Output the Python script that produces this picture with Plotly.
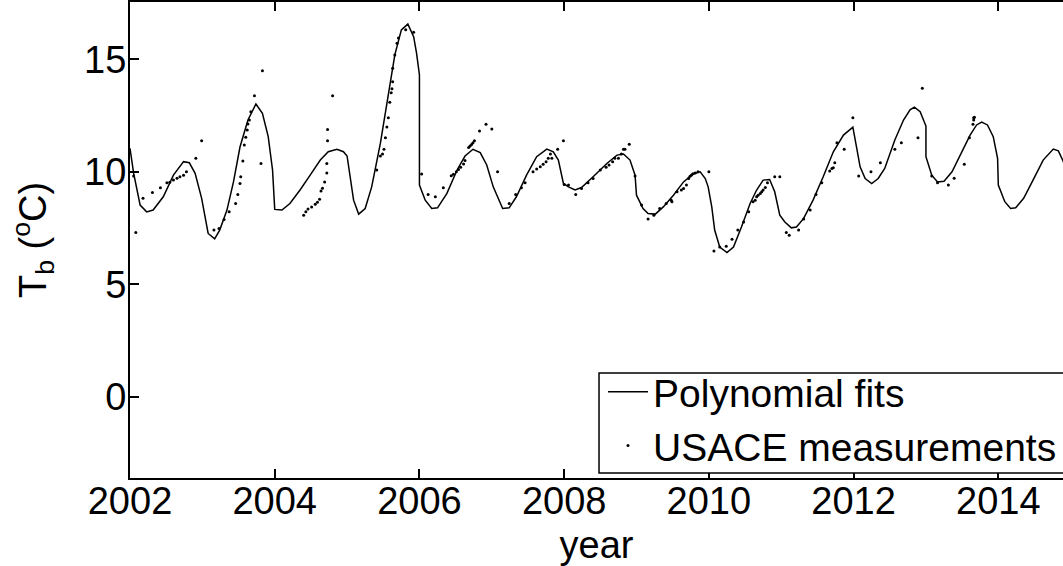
import plotly.graph_objects as go

# Polynomial fit curve (year, temperature °C)
fit_year = [2002.00, 2002.05, 2002.14, 2002.23, 2002.32, 2002.46, 2002.60, 2002.74, 2002.82, 2002.90,
            2002.99, 2003.08, 2003.17, 2003.24, 2003.34, 2003.43, 2003.52, 2003.63, 2003.74, 2003.83,
            2003.91, 2003.97, 2004.00, 2004.10, 2004.21, 2004.35, 2004.49, 2004.63, 2004.74, 2004.86,
            2004.95, 2005.00, 2005.09, 2005.16, 2005.25, 2005.34, 2005.46, 2005.57, 2005.66, 2005.75,
            2005.84, 2005.92, 2005.96, 2006.00, 2006.00, 2006.08, 2006.17, 2006.25, 2006.38, 2006.52,
            2006.63, 2006.74, 2006.84, 2006.93, 2007.02, 2007.15, 2007.24, 2007.34, 2007.48, 2007.62,
            2007.76, 2007.85, 2007.92, 2007.99, 2008.06, 2008.15, 2008.24, 2008.40, 2008.59, 2008.73,
            2008.82, 2008.91, 2008.98, 2009.00, 2009.09, 2009.16, 2009.26, 2009.37, 2009.51, 2009.65,
            2009.78, 2009.88, 2009.95, 2009.99, 2010.04, 2010.08, 2010.15, 2010.25, 2010.34, 2010.45,
            2010.57, 2010.66, 2010.75, 2010.84, 2010.91, 2010.98, 2011.05, 2011.14, 2011.21, 2011.31,
            2011.44, 2011.58, 2011.72, 2011.86, 2011.99, 2012.04, 2012.09, 2012.16, 2012.25, 2012.34,
            2012.43, 2012.57, 2012.69, 2012.78, 2012.84, 2012.92, 2013.00, 2013.00, 2013.08, 2013.16,
            2013.25, 2013.36, 2013.49, 2013.61, 2013.70, 2013.77, 2013.85, 2013.93, 2013.99, 2014.00,
            2014.09, 2014.17, 2014.24, 2014.35, 2014.48, 2014.62, 2014.76, 2014.83, 2014.89, 2014.95]
fit_temp = [11.04, 9.94, 8.52, 8.22, 8.30, 8.89, 9.85, 10.45, 10.40, 9.93,
            8.82, 7.26, 7.02, 7.41, 8.30, 9.55, 11.10, 12.30, 13.01, 12.60,
            11.56, 10.08, 8.33, 8.30, 8.59, 9.19, 9.85, 10.52, 10.89, 11.00,
            10.89, 10.70, 8.74, 8.12, 8.37, 9.33, 11.26, 13.34, 15.19, 16.30,
            16.56, 16.00, 15.27, 14.30, 9.41, 8.74, 8.37, 8.40, 9.04, 10.08,
            10.70, 11.00, 10.85, 10.30, 9.33, 8.37, 8.40, 8.89, 9.85, 10.67,
            11.01, 10.89, 10.52, 9.48, 9.33, 9.19, 9.30, 9.78, 10.37, 10.74,
            10.79, 10.52, 9.85, 8.96, 8.37, 8.15, 8.12, 8.44, 8.96, 9.55,
            9.90, 10.00, 9.70, 9.33, 8.44, 7.41, 6.66, 6.41, 6.66, 7.55,
            8.59, 9.19, 9.63, 9.66, 9.11, 8.07, 7.77, 7.51, 7.55, 7.93,
            8.74, 9.78, 10.89, 11.63, 11.98, 11.11, 10.22, 9.70, 9.48, 9.70,
            10.15, 11.41, 12.30, 12.75, 12.87, 12.67, 12.03, 10.67, 9.85, 9.55,
            9.58, 10.00, 10.82, 11.63, 12.08, 12.21, 12.08, 11.56, 10.60, 9.41,
            8.67, 8.37, 8.40, 8.82, 9.63, 10.52, 11.01, 10.93, 10.52, 10.00]

# USACE measurements (year, temperature °C)
obs_year = [2002.05, 2002.08, 2002.18, 2002.31, 2002.42, 2002.51, 2002.55, 2002.60, 2002.65, 2002.69,
            2002.74, 2002.78, 2002.91, 2002.99, 2003.16, 2003.23, 2003.30, 2003.37, 2003.46, 2003.49,
            2003.52, 2003.53, 2003.56, 2003.58, 2003.60, 2003.62, 2003.63, 2003.65, 2003.67, 2003.72,
            2003.81, 2003.83, 2004.40, 2004.43, 2004.46, 2004.51, 2004.56, 2004.59, 2004.62, 2004.64,
            2004.66, 2004.69, 2004.72, 2004.72, 2004.73, 2004.73, 2004.80,
            2005.41, 2005.46, 2005.49, 2005.51, 2005.53, 2005.55, 2005.57, 2005.59, 2005.61, 2005.62,
            2005.63, 2005.63, 2005.66, 2005.69, 2005.71, 2005.81, 2005.92,
            2006.03, 2006.12, 2006.22, 2006.33, 2006.44, 2006.47, 2006.51, 2006.54, 2006.57, 2006.61,
            2006.63, 2006.68, 2006.70, 2006.72, 2006.74, 2006.76, 2006.83, 2006.92, 2007.00,
            2007.08, 2007.24, 2007.33, 2007.41, 2007.46, 2007.57, 2007.62, 2007.67, 2007.71, 2007.75,
            2007.78, 2007.83, 2007.81, 2007.91, 2007.99,
            2008.00, 2008.06, 2008.16, 2008.24, 2008.33, 2008.40, 2008.50, 2008.58, 2008.62, 2008.67,
            2008.70, 2008.75, 2008.79, 2008.82, 2008.84, 2008.90, 2008.98,
            2009.07, 2009.16, 2009.24, 2009.32, 2009.41, 2009.48, 2009.49, 2009.56, 2009.62, 2009.65,
            2009.69, 2009.72, 2009.74, 2009.76, 2009.78, 2009.81, 2009.85,
            2010.00, 2010.07, 2010.15, 2010.24, 2010.32, 2010.40, 2010.48, 2010.55, 2010.61, 2010.64,
            2010.66, 2010.68, 2010.71, 2010.73, 2010.75, 2010.78, 2010.81, 2010.91, 2010.98,
            2011.07, 2011.11, 2011.24, 2011.31, 2011.40, 2011.48, 2011.56, 2011.67, 2011.70, 2011.72,
            2011.74, 2011.77, 2011.87, 2011.99,
            2012.07, 2012.24, 2012.37, 2012.57, 2012.66, 2012.89, 2012.95,
            2013.08, 2013.16, 2013.31, 2013.39, 2013.53, 2013.60, 2013.65, 2013.66, 2013.67, 2013.66]
obs_temp = [9.81, 7.30, 8.82, 9.08, 9.29, 9.51, 9.53, 9.63, 9.71, 9.78,
            9.85, 10.00, 10.60, 11.38, 7.41, 7.48, 7.88, 8.22, 8.59, 8.99,
            9.48, 9.78, 10.48, 11.19, 11.53, 11.86, 12.12, 12.30, 12.67, 13.38,
            10.37, 14.49, 8.07, 8.22, 8.35, 8.44, 8.56, 8.65, 8.78, 9.15,
            9.27, 9.55, 9.95, 10.37, 11.38, 11.88, 13.38,
            10.08, 10.70, 10.79, 11.00, 11.51, 11.99, 12.40, 13.09, 13.51, 13.69,
            14.00, 14.60, 15.19, 15.71, 15.94, 16.31, 16.20,
            9.90, 8.99, 8.89, 9.29, 9.82, 9.89, 10.00, 10.10, 10.20, 10.35,
            10.50, 11.08, 11.15, 11.21, 11.29, 11.38, 11.81, 12.11, 11.90,
            10.00, 8.59, 8.99, 9.29, 9.51, 10.00, 10.12, 10.22, 10.33, 10.45,
            10.60, 10.60, 10.79, 11.00, 11.38,
            9.44, 9.41, 8.99, 9.26, 9.51, 9.70, 10.08, 10.20, 10.30, 10.45,
            10.60, 10.60, 10.79, 11.00, 11.00, 11.22, 9.81,
            8.52, 7.90, 8.07, 8.37, 8.59, 8.74, 8.67, 9.11, 9.19, 9.26,
            9.41, 9.70, 9.80, 9.86, 9.91, 9.95, 10.00,
            10.00, 6.48, 6.66, 6.69, 7.00, 7.41, 7.77, 8.22, 8.67, 8.74,
            8.89, 8.96, 9.04, 9.11, 9.19, 9.30, 9.51, 9.78, 9.78,
            7.30, 7.18, 7.41, 7.90, 8.30, 8.99, 9.51, 10.03, 10.15, 10.18,
            10.40, 11.29, 11.00, 12.40,
            9.81, 10.00, 10.40, 11.00, 11.29, 11.51, 13.71,
            9.81, 9.51, 9.41, 9.71, 10.33, 11.51, 12.11, 12.30, 12.42, 12.40]

x_ticks = [2002, 2004, 2006, 2008, 2010, 2012, 2014]
y_ticks = [0, 5, 10, 15]

FONT = "Liberation Sans, Arial, Helvetica, sans-serif"
FS = 38

fig = go.Figure()
fig.add_trace(go.Scatter(x=fit_year, y=fit_temp, mode="lines", name="Polynomial fits",
                         line=dict(color="black", width=1.5)))
fig.add_trace(go.Scatter(x=obs_year, y=obs_temp, mode="markers", name="USACE measurements",
                         marker=dict(color="black", size=3)))

# legend frame (extends past the cropped right edge, like the reference)
fig.add_shape(type="rect", xref="paper", yref="paper",
              x0=0.5027, x1=1.05, y0=0.0105, y1=0.2206,
              line=dict(color="black", width=1.5), fillcolor="white", layer="above")

fig.update_layout(
    width=1063, height=566,
    margin=dict(l=130, r=0, t=2, b=88),
    paper_bgcolor="white", plot_bgcolor="white",
    font=dict(family=FONT, size=FS, color="black"),
    showlegend=True,
    legend=dict(x=0.507, y=0.0, xanchor="left", yanchor="bottom",
                bgcolor="rgba(0,0,0,0)", borderwidth=0,
                font=dict(family=FONT, size=39, color="black"),
                tracegroupgap=0, itemwidth=40),
)
fig.update_xaxes(range=[2002, 2014.894], tickvals=x_ticks, ticktext=[str(v) for v in x_ticks],
                 ticks="inside", ticklen=9, tickwidth=1.5, tickcolor="black",
                 ticklabelstandoff=-12,
                 showline=True, linecolor="black", linewidth=2, mirror="ticks",
                 showgrid=False, zeroline=False,
                 title=dict(text="year", standoff=11, font=dict(family=FONT, size=FS)))
fig.update_yaxes(range=[-3.6, 17.54], tickvals=y_ticks, ticktext=[str(v) for v in y_ticks],
                 ticks="inside", ticklen=9, tickwidth=1.5, tickcolor="black",
                 ticklabelstandoff=-6,
                 showline=True, linecolor="black", linewidth=2, mirror=False,
                 showgrid=False, zeroline=False,
                 title=dict(text="T<sub>b</sub> (<sup>o</sup>C)", standoff=26,
                            font=dict(family=FONT, size=FS)))

fig.write_html("out.html")
